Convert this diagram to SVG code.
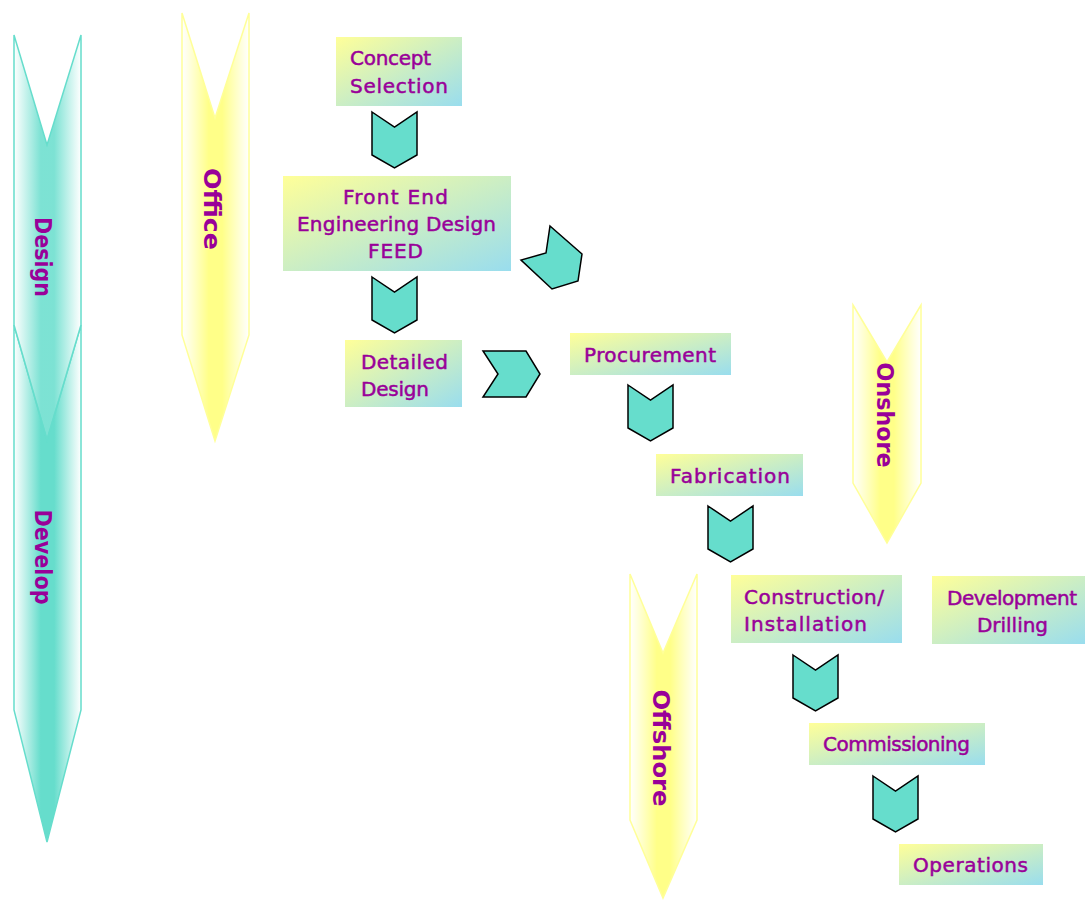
<svg xmlns="http://www.w3.org/2000/svg" xmlns:xlink="http://www.w3.org/1999/xlink" width="1085" height="900" viewBox="0 0 1085 900">
<defs>
<linearGradient id="gTeal" x1="0" y1="0" x2="1" y2="0">
<stop offset="0" stop-color="#ffffff"/><stop offset="0.4" stop-color="#66ddcc"/><stop offset="0.6" stop-color="#66ddcc"/><stop offset="1" stop-color="#ffffff"/>
</linearGradient>
<linearGradient id="gYel" x1="0" y1="0" x2="1" y2="0">
<stop offset="0" stop-color="#ffffff"/><stop offset="0.4" stop-color="#ffff88"/><stop offset="0.6" stop-color="#ffff88"/><stop offset="1" stop-color="#ffffff"/>
</linearGradient>
<linearGradient id="gBox" x1="0" y1="0" x2="1" y2="1">
<stop offset="0" stop-color="#ffff99"/><stop offset="1" stop-color="#99ddee"/>
</linearGradient>
<path id="chev" d="M0,0 L22.5,15 L45,0 L45,43 L22.5,56 L0,43 Z"/>
</defs>
<style>
.ta{fill:url(#gTeal);stroke:#66ddcc;stroke-width:1.5}
.ya{fill:url(#gYel);stroke:#ffff99;stroke-width:1.5}
.box{fill:url(#gBox)}
.t{font-family:"DejaVu Sans",Verdana,sans-serif;font-size:20px;fill:#990099;stroke:#990099;stroke-width:0.5}
.vt{font-family:"DejaVu Sans",Verdana,sans-serif;font-weight:bold;font-size:23px;fill:#990099;text-anchor:middle}
.ch{fill:#66ddcc;stroke:#000;stroke-width:1.5;stroke-linejoin:miter}
</style>
<rect width="1085" height="900" fill="#ffffff"/>

<g id="develop">
<path class="ta" d="M14,325 L47,440 L81,325 L81,710 L47,842 L14,710 Z"/>
<text class="vt" transform="translate(35,557) rotate(90)" textLength="95" lengthAdjust="spacingAndGlyphs">Develop</text>
</g>
<g id="design">
<path class="ta" d="M14,35 L47,145 L81,35 L81,325 L47,440 L14,325 Z" fill-opacity="0.85"/>
<text class="vt" transform="translate(35,257) rotate(90)" textLength="80" lengthAdjust="spacingAndGlyphs">Design</text>
</g>
<g id="office">
<path class="ya" d="M182,13 L215,118 L249,13 L249,335 L215,441 L182,335 Z"/>
<text class="vt" transform="translate(204,209) rotate(90)" textLength="82" lengthAdjust="spacingAndGlyphs">Office</text>
</g>
<g id="onshore">
<path class="ya" d="M853,305 L887,362 L921,305 L921,483 L887,543 L853,483 Z"/>
<text class="vt" transform="translate(877,415) rotate(90)" textLength="105" lengthAdjust="spacingAndGlyphs">Onshore</text>
</g>
<g id="offshore">
<path class="ya" d="M630,574 L663,653 L697,574 L697,820 L663,898 L630,820 Z"/>
<text class="vt" transform="translate(653,748) rotate(90)" textLength="117" lengthAdjust="spacingAndGlyphs">Offshore</text>
</g>

<g id="concept">
<rect class="box" x="336" y="37" width="126" height="69"/>
<text class="t" x="350" y="65" textLength="81">Concept</text>
<text class="t" x="350" y="93" textLength="98">Selection</text>
</g>
<g id="feed">
<rect class="box" x="283" y="176" width="228" height="95"/>
<text class="t" x="343" y="204" textLength="105">Front End</text>
<text class="t" x="297" y="231" textLength="199">Engineering Design</text>
<text class="t" x="368" y="258" textLength="55">FEED</text>
</g>
<g id="detailed">
<rect class="box" x="345" y="340" width="117" height="67"/>
<text class="t" x="361" y="369" textLength="87">Detailed</text>
<text class="t" x="361" y="396" textLength="68">Design</text>
</g>
<g id="procurement">
<rect class="box" x="570" y="333" width="161" height="42"/>
<text class="t" x="584" y="362" textLength="132">Procurement</text>
</g>
<g id="fabrication">
<rect class="box" x="656" y="454" width="147" height="42"/>
<text class="t" x="670" y="483" textLength="120">Fabrication</text>
</g>
<g id="construction">
<rect class="box" x="731" y="575" width="171" height="68"/>
<text class="t" x="744" y="604" textLength="140">Construction/</text>
<text class="t" x="744" y="631" textLength="123">Installation</text>
</g>
<g id="drilling">
<rect class="box" x="932" y="576" width="153" height="68"/>
<text class="t" x="947" y="605" textLength="130">Development</text>
<text class="t" x="977" y="632" textLength="71">Drilling</text>
</g>
<g id="commissioning">
<rect class="box" x="809" y="723" width="176" height="42"/>
<text class="t" x="823" y="751" textLength="147">Commissioning</text>
</g>
<g id="operations">
<rect class="box" x="899" y="844" width="144" height="41"/>
<text class="t" x="913" y="872" textLength="115">Operations</text>
</g>

<g id="connectors">
<use xlink:href="#chev" class="ch" x="372" y="112"/>
<use xlink:href="#chev" class="ch" x="372" y="277"/>
<polygon class="ch" points="550,226 582,254 578,281 552,289 521,260 546,253"/>
<polygon class="ch" points="483,351 526,351 540,374 526,397 483,397 498,374"/>
<use xlink:href="#chev" class="ch" x="628" y="385"/>
<use xlink:href="#chev" class="ch" x="708" y="506"/>
<use xlink:href="#chev" class="ch" x="793" y="655"/>
<use xlink:href="#chev" class="ch" x="873" y="776"/>
</g>
</svg>
